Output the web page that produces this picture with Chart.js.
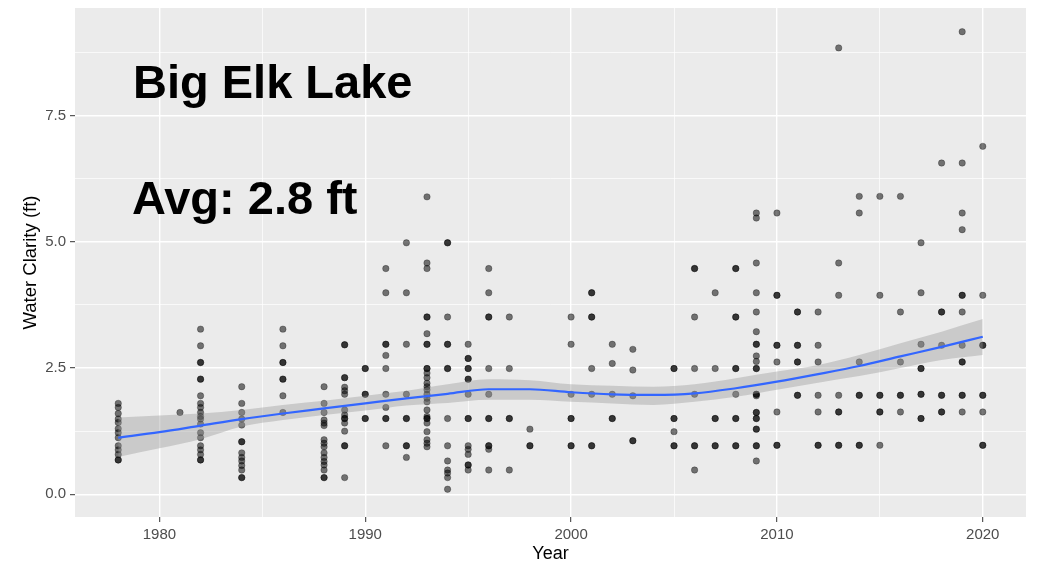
<!DOCTYPE html>
<html>
<head>
<meta charset="utf-8">
<script src="https://cdn.jsdelivr.net/npm/chart.js@4.4.1/dist/chart.umd.min.js"></script>
<style>
    body { margin: 0; background: #fff; }
    #wrap { width: 1040px; height: 565px; position: relative; }
</style>
</head>
<body>
<div id="wrap"><canvas id="clarity-chart"></canvas></div>
<script>
// Big Elk Lake secchi readings, one list per sampling year (repeats = overlapping readings)
const years = [1978, 1981, 1982, 1984, 1986, 1988, 1989, 1990, 1991, 1992, 1993, 1994, 1995, 1996, 1997, 1998,
    2000, 2001, 2002, 2003, 2005, 2006, 2007, 2008, 2009, 2010, 2011, 2012, 2013, 2014, 2015, 2016, 2017, 2018, 2019, 2020];
const clarityByYear = [
    [1.80, 1.72, 1.60, 1.49, 1.42, 1.30, 1.22, 1.12, 0.96, 0.88, 0.79, 0.68, 0.68],
    [1.62],
    [3.27, 2.94, 2.61, 2.61, 2.28, 2.28, 1.95, 1.80, 1.72, 1.62, 1.54, 1.49, 1.39, 1.22, 1.12, 0.96, 0.88, 0.79, 0.68, 0.68],
    [2.13, 1.80, 1.62, 1.49, 1.37, 1.04, 1.04, 0.82, 0.73, 0.66, 0.57, 0.48, 0.33, 0.33],
    [3.27, 2.94, 2.61, 2.61, 2.28, 2.28, 1.95, 1.62],
    [2.13, 1.80, 1.62, 1.47, 1.41, 1.36, 1.08, 1.01, 0.94, 0.82, 0.73, 0.65, 0.58, 0.48, 0.33, 0.33],
    [2.96, 2.96, 2.31, 2.31, 2.12, 2.05, 1.98, 1.67, 1.57, 1.50, 1.50, 1.41, 1.25, 0.96, 0.96, 0.33],
    [2.49, 2.49, 1.98, 1.98, 1.50, 1.50],
    [4.47, 3.99, 2.97, 2.97, 2.75, 2.49, 1.98, 1.72, 1.50, 1.50, 0.96],
    [4.98, 3.99, 2.97, 1.98, 1.50, 1.50, 0.96, 0.96, 0.73],
    [5.89, 4.58, 4.47, 3.51, 3.51, 3.18, 2.97, 2.97, 2.49, 2.49, 2.40, 2.31, 2.20, 2.13, 2.07, 1.98, 1.90, 1.83, 1.67, 1.54, 1.50, 1.50, 1.41, 1.24, 1.08, 1.01, 0.94],
    [4.98, 4.98, 3.51, 2.97, 2.97, 2.49, 2.49, 1.50, 0.96, 0.66, 0.48, 0.42, 0.33, 0.10],
    [2.97, 2.69, 2.69, 2.49, 2.49, 2.28, 2.28, 1.98, 1.50, 1.50, 0.96, 0.89, 0.79, 0.58, 0.58, 0.48],
    [4.47, 3.99, 3.51, 3.51, 2.49, 1.98, 1.50, 1.50, 0.96, 0.96, 0.89, 0.48],
    [3.51, 2.49, 1.50, 1.50, 0.48],
    [1.29, 0.96, 0.96],
    [3.51, 2.97, 1.98, 1.50, 1.50, 0.96, 0.96],
    [3.99, 3.99, 3.51, 3.51, 2.49, 1.98, 0.96, 0.96],
    [2.97, 2.59, 1.98, 1.50, 1.50],
    [2.87, 2.46, 1.95, 1.06, 1.06],
    [2.49, 2.49, 1.50, 1.50, 1.24, 0.96, 0.96],
    [4.47, 4.47, 3.51, 2.49, 1.98, 0.96, 0.96, 0.48],
    [3.99, 2.49, 1.50, 1.50, 0.96, 0.96],
    [4.47, 4.47, 3.51, 3.51, 2.49, 2.49, 1.98, 1.50, 1.50, 0.96, 0.96],
    [5.57, 5.47, 4.58, 3.99, 3.61, 3.22, 2.97, 2.97, 2.74, 2.63, 2.49, 2.49, 1.98, 1.98, 1.95, 1.62, 1.62, 1.50, 1.50, 1.29, 1.29, 0.96, 0.96, 0.66],
    [5.57, 3.94, 3.94, 2.95, 2.95, 2.62, 1.63, 0.97, 0.97],
    [3.61, 3.61, 2.95, 2.95, 2.62, 2.62, 1.96, 1.96],
    [3.61, 2.95, 2.62, 1.96, 1.63, 0.97, 0.97],
    [8.84, 4.58, 3.94, 1.96, 1.63, 1.63, 0.97, 0.97],
    [5.90, 5.57, 2.62, 1.96, 1.96, 0.97, 0.97],
    [5.90, 3.94, 1.96, 1.96, 1.63, 1.63, 0.97],
    [5.90, 3.61, 2.62, 1.96, 1.96, 1.63],
    [4.98, 3.99, 2.97, 2.49, 2.49, 1.98, 1.98, 1.50, 1.50],
    [6.56, 3.61, 3.61, 2.95, 1.96, 1.96, 1.63, 1.63],
    [9.16, 6.56, 5.57, 5.24, 3.94, 3.94, 3.61, 2.95, 2.62, 2.62, 1.96, 1.96, 1.63],
    [6.89, 3.94, 2.95, 2.95, 1.96, 1.96, 1.63, 0.97, 0.97]
];

// loess fit + 95% band
const smoothYears = [1978, 1980, 1982, 1984, 1986, 1988, 1990, 1992, 1994, 1996, 1998, 2000, 2002, 2004, 2006, 2008, 2010, 2012, 2014, 2016, 2018, 2020];
const smoothFit = [1.12, 1.23, 1.36, 1.49, 1.60, 1.70, 1.80, 1.90, 1.99, 2.08, 2.08, 2.02, 1.98, 1.97, 2.00, 2.10, 2.23, 2.38, 2.54, 2.73, 2.92, 3.12];
const smoothLow = [0.74, 0.91, 1.09, 1.34, 1.47, 1.57, 1.66, 1.76, 1.81, 1.87, 1.87, 1.83, 1.80, 1.77, 1.83, 1.93, 2.07, 2.21, 2.34, 2.50, 2.66, 2.76];
const smoothHigh = [1.52, 1.56, 1.60, 1.67, 1.77, 1.85, 1.95, 2.05, 2.18, 2.28, 2.26, 2.18, 2.15, 2.13, 2.18, 2.30, 2.43, 2.56, 2.76, 2.99, 3.22, 3.47];

const xTicks = [1980, 1985, 1990, 1995, 2000, 2005, 2010, 2015, 2020];
const yTicks = [0, 1.25, 2.5, 3.75, 5, 6.25, 7.5, 8.75];

const lakeName = "Big Elk Lake";
const avgLabel = "Avg: 2.8 ft";

const FONT = "'Liberation Sans', Arial, sans-serif";

let points = [];
years.forEach((yr, i) => {
    clarityByYear[i].forEach(v => points.push({x: yr, y: v}));
});
const toXY = (vals) => smoothYears.map((yr, i) => ({x: yr, y: vals[i]}));

const isMajorX = (v) => v % 10 === 0;
const isMajorY = (v) => Math.abs(v / 2.5 - Math.round(v / 2.5)) < 1e-6;

const panelBg = {
    id: 'panelBg',
    beforeDraw: (chart) => {
        const {ctx, chartArea} = chart;
        ctx.save();
        ctx.fillStyle = '#EBEBEB';
        ctx.fillRect(chartArea.left, chartArea.top, chartArea.right - chartArea.left, chartArea.bottom - chartArea.top);
        ctx.restore();
    }
};

const lakeLabels = {
    id: 'lakeLabels',
    afterDatasetsDraw: (chart) => {
        const ctx = chart.ctx;
        const x = chart.chartArea.left + 58;
        ctx.save();
        ctx.fillStyle = '#000';
        ctx.font = "bold 47px " + FONT;
        ctx.textBaseline = 'alphabetic';
        ctx.textAlign = 'left';
        ctx.fillText(lakeName, x, 98);
        ctx.fillText(avgLabel, x - 1, 214);
        ctx.restore();
    }
};

new Chart(document.getElementById('clarity-chart'), {
    type: 'scatter',
    data: {
        datasets: [
            {
                type: 'line',
                label: 'fit',
                data: toXY(smoothFit),
                borderColor: '#3366FF',
                borderWidth: 2.2,
                pointRadius: 0,
                tension: 0.4,
                cubicInterpolationMode: 'monotone',
                fill: false
            },
            {
                type: 'line',
                label: 'upper',
                data: toXY(smoothHigh),
                borderWidth: 0,
                pointRadius: 0,
                tension: 0.4,
                cubicInterpolationMode: 'monotone',
                backgroundColor: 'rgba(153,153,153,0.4)',
                fill: '+1'
            },
            {
                type: 'line',
                label: 'lower',
                data: toXY(smoothLow),
                borderWidth: 0,
                pointRadius: 0,
                tension: 0.4,
                cubicInterpolationMode: 'monotone',
                fill: false
            },
            {
                label: 'obs',
                data: points,
                pointRadius: 3.2,
                pointBorderWidth: 1,
                backgroundColor: 'rgba(0,0,0,0.52)',
                borderColor: 'rgba(0,0,0,0.28)'
            }
        ]
    },
    options: {
        responsive: true,
        maintainAspectRatio: false,
        animation: false,
        events: [],
        layout: {padding: {top: 8, right: 14, left: 0, bottom: 0}},
        plugins: {
            legend: {display: false},
            tooltip: {enabled: false}
        },
        scales: {
            x: {
                type: 'linear',
                min: 1975.9,
                max: 2022.1,
                afterBuildTicks: (scale) => { scale.ticks = xTicks.map(v => ({value: v})) },
                afterFit: (scale) => {
                    scale.height = 48
                    scale.paddingLeft = 0
                    scale.paddingRight = 0
                },
                border: {display: false},
                grid: {
                    color: '#FFFFFF',
                    lineWidth: (c) => isMajorX(c.tick.value) ? 1.4 : 0.7,
                    tickColor: (c) => isMajorX(c.tick.value) ? '#333333' : 'rgba(0,0,0,0)',
                    tickLength: 5,
                    tickWidth: 1
                },
                ticks: {
                    autoSkip: false,
                    maxRotation: 0,
                    padding: 4,
                    color: '#4D4D4D',
                    font: {family: FONT, size: 15},
                    callback: (v) => isMajorX(v) ? String(v) : ''
                },
                title: {
                    display: true,
                    text: 'Year',
                    color: '#000',
                    font: {family: FONT, size: 18},
                    padding: {top: 0, bottom: 0}
                }
            },
            y: {
                type: 'linear',
                min: -0.45,
                max: 9.63,
                afterBuildTicks: (scale) => { scale.ticks = yTicks.map(v => ({value: v})) },
                afterFit: (scale) => {
                    scale.width = 75
                    scale.paddingTop = 0
                    scale.paddingBottom = 0
                },
                border: {display: false},
                grid: {
                    color: '#FFFFFF',
                    lineWidth: (c) => isMajorY(c.tick.value) ? 1.4 : 0.7,
                    tickColor: (c) => isMajorY(c.tick.value) ? '#333333' : 'rgba(0,0,0,0)',
                    tickLength: 5,
                    tickWidth: 1
                },
                ticks: {
                    autoSkip: false,
                    padding: 4,
                    color: '#4D4D4D',
                    font: {family: FONT, size: 15},
                    callback: (v) => isMajorY(v) ? v.toFixed(1) : ''
                },
                title: {
                    display: true,
                    text: 'Water Clarity (ft)',
                    color: '#000',
                    font: {family: FONT, size: 18.5},
                    padding: {top: 20, bottom: 0}
                }
            }
        }
    },
    plugins: [panelBg, lakeLabels]
});
</script>
</body>
</html>
